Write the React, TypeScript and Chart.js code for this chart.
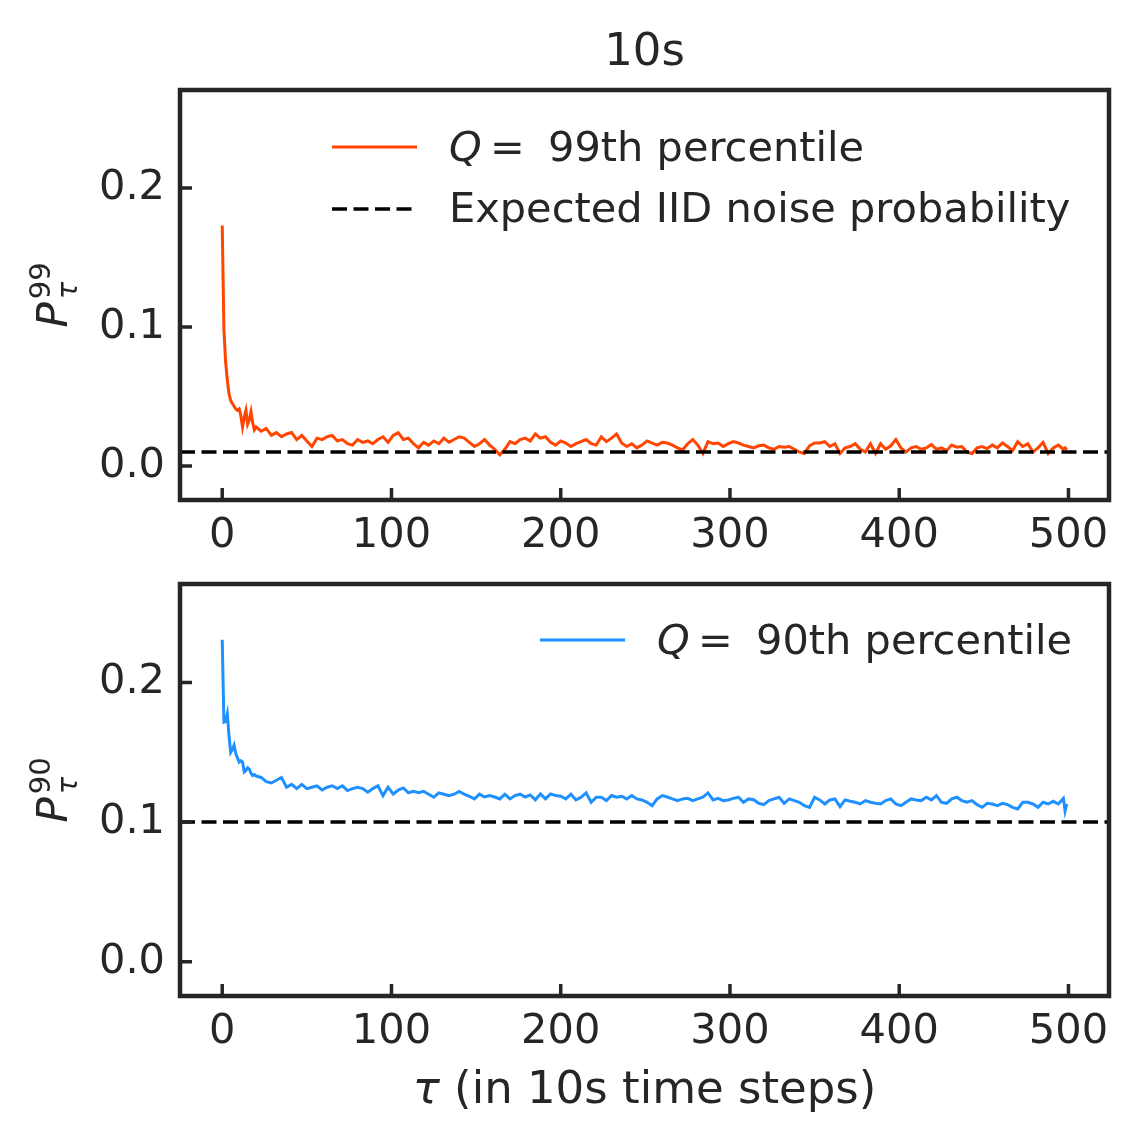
import { useEffect, useRef } from "react";
import { Chart, registerables } from "chart.js";

Chart.register(...registerables);

// tau positions the curves were read at (dense at the start, every 3 steps after)
const TAU = [
  0, 1, 2, 3, 4, 5, 6, 7, 8, 9,
  10, 11, 12, 13, 14, 15, 16, 17, 18, 19,
  20, 23, 26, 29, 32, 35, 38, 41, 44, 47,
  50, 53, 56, 59, 62, 65, 68, 71, 74, 77,
  80, 83, 86, 89, 92, 95, 98, 101, 104, 107,
  110, 113, 116, 119, 122, 125, 128, 131, 134, 137,
  140, 143, 146, 149, 152, 155, 158, 161, 164, 167,
  170, 173, 176, 179, 182, 185, 188, 191, 194, 197,
  200, 203, 206, 209, 212, 215, 218, 221, 224, 227,
  230, 233, 236, 239, 242, 245, 248, 251, 254, 257,
  260, 263, 266, 269, 272, 275, 278, 281, 284, 287,
  290, 293, 296, 299, 302, 305, 308, 311, 314, 317,
  320, 323, 326, 329, 332, 335, 338, 341, 344, 347,
  350, 353, 356, 359, 362, 365, 368, 371, 374, 377,
  380, 383, 386, 389, 392, 395, 398, 401, 404, 407,
  410, 413, 416, 419, 422, 425, 428, 431, 434, 437,
  440, 443, 446, 449, 452, 455, 458, 461, 464, 467,
  470, 473, 476, 479, 482, 485, 488, 491, 494, 497,
  498, 499,
];

// Q = 99th percentile
const P99 = [
  0.173, 0.098, 0.075, 0.062, 0.052, 0.047, 0.045, 0.043, 0.041, 0.04,
  0.041, 0.036, 0.028, 0.035, 0.04, 0.03, 0.033, 0.039, 0.031, 0.026,
  0.028, 0.025, 0.027, 0.022, 0.024, 0.021, 0.023, 0.024, 0.019, 0.022,
  0.018, 0.014, 0.02, 0.019, 0.021, 0.022, 0.018, 0.019, 0.016, 0.015,
  0.019, 0.017, 0.018, 0.016, 0.019, 0.021, 0.017, 0.022, 0.024, 0.019,
  0.02, 0.016, 0.013, 0.017, 0.015, 0.018, 0.016, 0.02, 0.017, 0.019,
  0.021, 0.02, 0.017, 0.014, 0.016, 0.019, 0.015, 0.012, 0.008, 0.012,
  0.0175, 0.016, 0.019, 0.02, 0.018, 0.023, 0.02, 0.021, 0.017, 0.015,
  0.018, 0.0165, 0.014, 0.016, 0.0175, 0.019, 0.016, 0.015, 0.021, 0.0175,
  0.02, 0.023, 0.0165, 0.014, 0.016, 0.013, 0.015, 0.018, 0.0165, 0.015,
  0.017, 0.0165, 0.015, 0.013, 0.0115, 0.016, 0.019, 0.015, 0.009, 0.0175,
  0.016, 0.0165, 0.014, 0.016, 0.0175, 0.0165, 0.015, 0.014, 0.013, 0.0145,
  0.015, 0.013, 0.012, 0.014, 0.0135, 0.014, 0.012, 0.01, 0.009, 0.0145,
  0.0165, 0.0165, 0.0175, 0.014, 0.016, 0.009, 0.013, 0.014, 0.016, 0.012,
  0.01, 0.016, 0.009, 0.016, 0.012, 0.0145, 0.019, 0.013, 0.01, 0.013,
  0.014, 0.012, 0.013, 0.0155, 0.012, 0.013, 0.011, 0.015, 0.0135, 0.014,
  0.01, 0.009, 0.013, 0.014, 0.0125, 0.015, 0.013, 0.0165, 0.014, 0.011,
  0.0175, 0.014, 0.016, 0.01, 0.013, 0.017, 0.009, 0.013, 0.015, 0.012,
  0.013, 0.0115,
];

// Q = 90th percentile
const P90 = [
  0.2306, 0.1716, 0.172, 0.1775, 0.162, 0.15, 0.152, 0.155, 0.149, 0.146,
  0.143, 0.144, 0.143, 0.136, 0.137, 0.139, 0.138, 0.135, 0.1333, 0.134,
  0.133, 0.132, 0.129, 0.128, 0.13, 0.132, 0.125, 0.127, 0.124, 0.127,
  0.124, 0.125, 0.126, 0.123, 0.125, 0.126, 0.124, 0.126, 0.1226, 0.124,
  0.125, 0.124, 0.1214, 0.124, 0.126, 0.119, 0.125, 0.12, 0.123, 0.1245,
  0.121, 0.122, 0.121, 0.122, 0.12, 0.1178, 0.121, 0.12, 0.119, 0.12,
  0.122, 0.12, 0.1185, 0.1166, 0.12, 0.118, 0.119, 0.118, 0.1166, 0.12,
  0.1166, 0.119, 0.12, 0.118, 0.1195, 0.116, 0.1202, 0.1166, 0.1202, 0.119,
  0.1185, 0.1166, 0.12, 0.1159, 0.1178, 0.121, 0.1142, 0.1178, 0.1178, 0.1154,
  0.119, 0.1178, 0.1185, 0.1166, 0.119, 0.1166, 0.1159, 0.1142, 0.1118, 0.1166,
  0.119, 0.118, 0.1166, 0.1154, 0.1166, 0.117, 0.1154, 0.1166, 0.1178, 0.1209,
  0.1159, 0.117, 0.1154, 0.1159, 0.117, 0.1178, 0.1142, 0.1166, 0.116, 0.1135,
  0.1125, 0.1154, 0.1166, 0.1178, 0.1135, 0.1166, 0.1154, 0.1142, 0.1118, 0.1106,
  0.1178, 0.1159, 0.113, 0.1159, 0.1166, 0.1111, 0.1159, 0.115, 0.1142, 0.113,
  0.1154, 0.1142, 0.1135, 0.113, 0.1154, 0.1166, 0.113, 0.1118, 0.1142, 0.1166,
  0.1159, 0.1154, 0.1178, 0.1159, 0.119, 0.1142, 0.1135, 0.1166, 0.1178, 0.1154,
  0.1142, 0.1154, 0.1125, 0.1106, 0.1135, 0.113, 0.1118, 0.1135, 0.1125, 0.1106,
  0.1094, 0.1142, 0.1142, 0.113, 0.1106, 0.1142, 0.113, 0.1149, 0.113, 0.117,
  0.108, 0.113,
];

const IID_99 = 0.01;
const IID_90 = 0.1;

const X_TICKS = [0, 100, 200, 300, 400, 500];
const Y_TICKS = [0, 0.1, 0.2];
const X_MIN = -24.95;
const X_MAX = 523.95;
const Y_MIN = -0.0245;
const Y_MAX = 0.2705;

const FONT = '"DejaVu Sans", sans-serif';
const INK = "#262626";
const W = 1139;

interface Panel {
  values: number[];
  iid: number;
  color: string;
  pct: string;
  top: number; // canvas offset on page
  height: number;
  padTop: number;
  axisHeight: number;
  legendX: number;
  legendY: number;
  showIid: boolean;
  title?: string;
  xTitle?: string;
  xTitleY?: number;
}

const PANELS: Panel[] = [
  {
    values: P99,
    iid: IID_99,
    color: "#ff4500",
    pct: "99",
    top: 0,
    height: 560,
    padTop: 90,
    axisHeight: 60,
    legendX: 332,
    legendY: 147,
    showIid: true,
    title: "10s",
  },
  {
    values: P90,
    iid: IID_90,
    color: "#1e90ff",
    pct: "90",
    top: 500,
    height: 646,
    padTop: 84,
    axisHeight: 150,
    legendX: 540,
    legendY: 140,
    showIid: false,
    xTitle: " (in 10s time steps)",
    xTitleY: 603,
  },
];

function drawYLabel(ctx: CanvasRenderingContext2D, cx: number, cy: number, sup: string) {
  ctx.save();
  ctx.translate(cx, cy);
  ctx.rotate(-Math.PI / 2);
  ctx.fillStyle = INK;
  ctx.textAlign = "left";
  ctx.textBaseline = "alphabetic";
  ctx.font = `italic 42px ${FONT}`;
  const wP = ctx.measureText("P").width;
  ctx.font = `29px ${FONT}`;
  const wS = ctx.measureText(sup).width;
  let x = -(wP + 3 + wS) / 2;
  ctx.font = `italic 42px ${FONT}`;
  ctx.fillText("P", x, 0);
  x += wP + 3;
  ctx.font = `29px ${FONT}`;
  ctx.fillText(sup, x, -17);
  ctx.font = `italic 29px ${FONT}`;
  ctx.fillText("τ", x, 10);
  ctx.restore();
}

function panelPlugin(p: Panel) {
  return {
    id: "panel" + p.pct,
    afterDraw(chart: Chart) {
      const { ctx, chartArea: a, scales } = chart;
      ctx.save();

      // frame
      ctx.strokeStyle = INK;
      ctx.lineWidth = 4.5;
      ctx.strokeRect(a.left, a.top, a.right - a.left, a.bottom - a.top);

      // inward ticks
      ctx.lineWidth = 3.5;
      ctx.beginPath();
      X_TICKS.forEach((v) => {
        const px = scales.x.getPixelForValue(v);
        ctx.moveTo(px, a.bottom);
        ctx.lineTo(px, a.bottom - 12);
      });
      Y_TICKS.forEach((v) => {
        const py = scales.y.getPixelForValue(v);
        ctx.moveTo(a.left, py);
        ctx.lineTo(a.left + 12, py);
      });
      ctx.stroke();

      drawYLabel(ctx, 67, (a.top + a.bottom) / 2, p.pct);

      // legend
      const lx = p.legendX;
      const tx = lx + 117;
      const y1 = p.legendY;
      ctx.strokeStyle = p.color;
      ctx.lineWidth = 3;
      ctx.beginPath();
      ctx.moveTo(lx, y1);
      ctx.lineTo(lx + 85, y1);
      ctx.stroke();
      ctx.fillStyle = INK;
      ctx.textBaseline = "alphabetic";
      ctx.textAlign = "left";
      ctx.font = `italic 41.5px ${FONT}`;
      ctx.fillText("Q", tx, y1 + 14);
      ctx.font = `41.5px ${FONT}`;
      ctx.fillText("=", tx + 41, y1 + 14);
      ctx.fillText(`${p.pct}th percentile`, tx + 99, y1 + 14);
      if (p.showIid) {
        const y2 = y1 + 62;
        ctx.strokeStyle = "#000";
        ctx.lineWidth = 3.5;
        ctx.setLineDash([15, 6.5]);
        ctx.beginPath();
        ctx.moveTo(lx, y2);
        ctx.lineTo(lx + 85, y2);
        ctx.stroke();
        ctx.setLineDash([]);
        ctx.fillText("Expected IID noise probability", tx, y2 + 13);
      }

      const cx = (a.left + a.right) / 2;
      if (p.title) {
        ctx.font = `45px ${FONT}`;
        ctx.textAlign = "center";
        ctx.fillText(p.title, cx, 65);
      }
      if (p.xTitle && p.xTitleY) {
        ctx.textAlign = "left";
        ctx.font = `italic 45px ${FONT}`;
        const wt = ctx.measureText("τ").width;
        ctx.font = `45px ${FONT}`;
        const wr = ctx.measureText(p.xTitle).width;
        const x0 = cx - (wt + wr) / 2;
        ctx.font = `italic 45px ${FONT}`;
        ctx.fillText("τ", x0, p.xTitleY);
        ctx.font = `45px ${FONT}`;
        ctx.fillText(p.xTitle, x0 + wt, p.xTitleY);
      }
      ctx.restore();
    },
  };
}

function makeChart(canvas: HTMLCanvasElement, p: Panel) {
  const tickFont = { family: FONT, size: 41.5 };
  return new Chart(canvas, {
    type: "line",
    data: {
      datasets: [
        {
          data: [
            { x: X_MIN, y: p.iid },
            { x: X_MAX, y: p.iid },
          ],
          borderColor: "#000",
          borderWidth: 3.5,
          borderDash: [15, 6.5],
          pointRadius: 0,
          order: 0,
        },
        {
          data: TAU.map((t, i) => ({ x: t, y: p.values[i] })),
          borderColor: p.color,
          borderWidth: 3,
          pointRadius: 0,
          tension: 0,
          order: 1,
        },
      ],
    },
    options: {
      responsive: false,
      animation: false,
      events: [],
      layout: { padding: { top: p.padTop, right: 30, left: 0, bottom: 0 } },
      plugins: {
        legend: { display: false },
        tooltip: { enabled: false },
      },
      scales: {
        x: {
          type: "linear",
          min: X_MIN,
          max: X_MAX,
          grid: { display: false, drawTicks: false },
          border: { display: false },
          ticks: {
            color: INK,
            font: tickFont,
            padding: 11,
            maxRotation: 0,
            autoSkip: false,
            callback: (v) => String(v),
          },
          afterBuildTicks: (s) => {
            s.ticks = X_TICKS.map((value) => ({ value }));
          },
          afterFit: (s) => {
            s.height = p.axisHeight;
          },
        },
        y: {
          type: "linear",
          min: Y_MIN,
          max: Y_MAX,
          grid: { display: false, drawTicks: false },
          border: { display: false },
          ticks: {
            color: INK,
            font: tickFont,
            padding: 15,
            autoSkip: false,
            callback: (v) => Number(v).toFixed(1),
          },
          afterBuildTicks: (s) => {
            s.ticks = Y_TICKS.map((value) => ({ value }));
          },
          afterFit: (s) => {
            s.width = 180;
          },
        },
      },
    },
    plugins: [panelPlugin(p)],
  });
}

export default function App() {
  const topRef = useRef<HTMLCanvasElement>(null);
  const bottomRef = useRef<HTMLCanvasElement>(null);

  useEffect(() => {
    if (!topRef.current || !bottomRef.current) return;
    const charts = [
      makeChart(topRef.current, PANELS[0]),
      makeChart(bottomRef.current, PANELS[1]),
    ];
    return () => charts.forEach((c) => c.destroy());
  }, []);

  return (
    <div
      style={{
        position: "absolute",
        left: 0,
        top: 0,
        width: W,
        height: 1146,
        background: "#fff",
      }}
    >
      <canvas
        ref={topRef}
        width={W}
        height={PANELS[0].height}
        style={{ position: "absolute", left: 0, top: PANELS[0].top, display: "block" }}
      />
      <canvas
        ref={bottomRef}
        width={W}
        height={PANELS[1].height}
        style={{ position: "absolute", left: 0, top: PANELS[1].top, display: "block" }}
      />
    </div>
  );
}
